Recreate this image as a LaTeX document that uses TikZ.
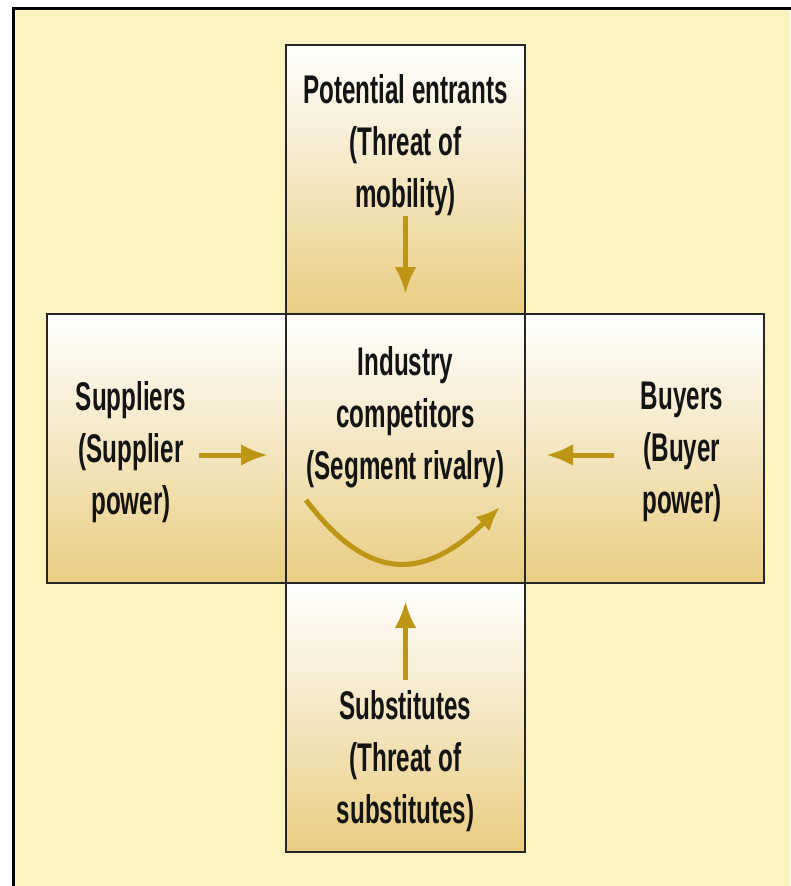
\documentclass[tikz,border=0pt]{standalone}
\usepackage{fontspec}
\setmainfont[FakeStretch=0.605]{Liberation Sans}
\usepackage{tikz}
\usetikzlibrary{arrows.meta}
\definecolor{fond}{RGB}{251,244,192}
\definecolor{dore}{RGB}{233,205,130}
\definecolor{ocre}{RGB}{190,150,22}

\begin{document}
\begin{tikzpicture}[x=1pt,y=-1pt]
% Styles
\tikzstyle{boite}=[draw=black!85,line width=2pt,top color=white,bottom color=dore,minimum width=\Largeur pt,minimum height=\Hauteur pt,inner sep=0pt]
\tikzstyle{texte}=[align=center,font=\fontsize{40}{52}\selectfont\bfseries,text=black!92]
\tikzstyle{fleche}=[-{Latex[length=27pt,width=22pt]},line width=5pt,ocre]
% Dimensions
\def\Largeur{239}
\def\Hauteur{269}
\def\Cx{405.5}
\def\Cy{448.5}
% Fond
\useasboundingbox (0,0) rectangle (790,886);
\fill[fond] (13,8) rectangle (790,886);
\draw[line width=3pt,line cap=rect] (13,886) -- (13,8) -- (790,8);
% Boites
\node[boite] (C) at ({\Cx},{\Cy}) {};
\node[boite] (H) at ({\Cx},{\Cy-\Hauteur}) {};
\node[boite] (B) at ({\Cx},{\Cy+\Hauteur}) {};
\node[boite] (G) at ({\Cx-\Largeur},{\Cy}) {};
\node[boite] (D) at ({\Cx+\Largeur},{\Cy}) {};
% Textes
\node[texte] (Ht) at ({\Cx},145) {Potential entrants\\(Threat of\\mobility)};
\node[texte] (Ct) at ({\Cx},417) {Industry\\competitors\\(Segment rivalry)};
\node[texte] (Gt) at (131,452) {Suppliers\\(Supplier\\power)};
\node[texte] (Dt) at (682,452) {Buyers\\(Buyer\\power)};
\node[texte] (Bt) at ({\Cx},761) {Substitutes\\(Threat of\\substitutes)};
% Extremites des fleches
\coordinate (Ha) at ({\Cx},216);
\coordinate (Hb) at ({\Cx},294);
\coordinate (Ga) at (199,455);
\coordinate (Gb) at (268,455);
\coordinate (Da) at (614,455);
\coordinate (Db) at (546,455);
\coordinate (Ba) at ({\Cx},680);
\coordinate (Bb) at ({\Cx},601);
\coordinate (Ca) at (306,500);
\coordinate (Cb) at (500,507);
% Fleches
\draw[fleche] (Ha)--(Hb);
\draw[fleche] (Ga)--(Gb);
\draw[fleche] (Da)--(Db);
\draw[fleche] (Ba)--(Bb);
\draw[fleche,-{Latex[length=24pt,width=20pt]}] (Ca) .. controls (365,578) and (420,585) .. (Cb);
\end{tikzpicture}
\end{document}
